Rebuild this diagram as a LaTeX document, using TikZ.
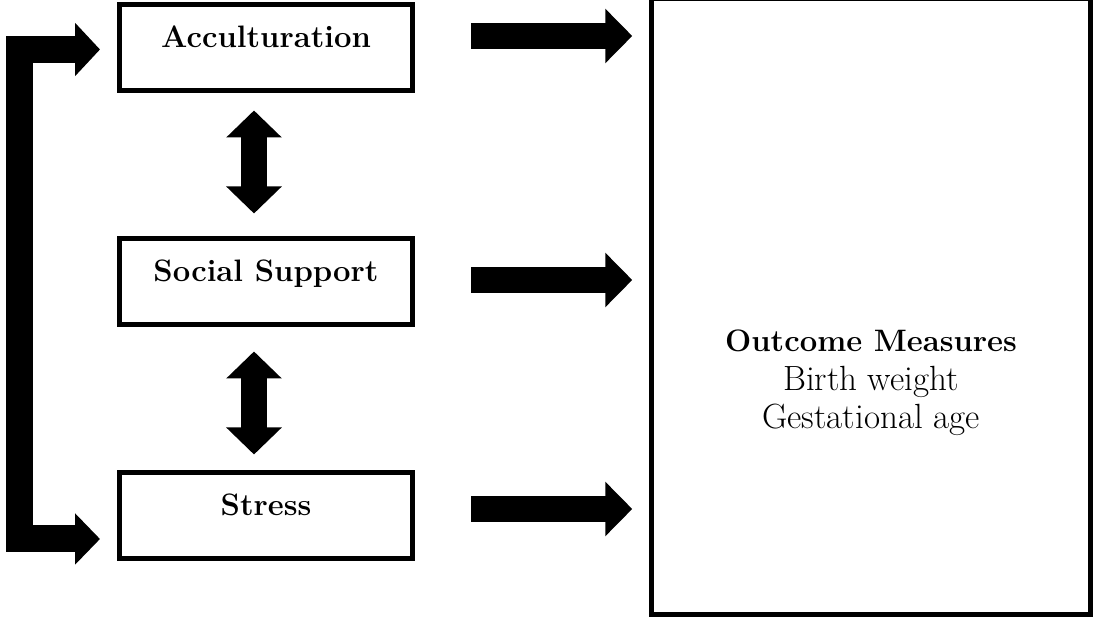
\documentclass[tikz,border=0pt]{standalone}
\usepackage{tikz}
\usetikzlibrary{arrows.meta,positioning}
\tikzset{
  boxnode/.style = {rectangle, draw=black, line width=5pt, align=center,
    minimum width=293pt, minimum height=86pt, text height=22pt, text depth=22pt,
    font=\fontsize{31}{38.5}\selectfont\bfseries},% boite de facteur
  fat_arr/.style = {line width=26pt,
    -{Triangle[length=27pt,width=53pt]}},% fleche pleine
  fat_dbl/.style = {line width=26pt,
    {Triangle[length=27pt,width=54pt]}-{Triangle[length=27pt,width=54pt]}},% fleche double
  out_box/.style = {rectangle, draw=black, line width=4.5pt,
    minimum width=439pt, minimum height=616pt}% boite des resultats
}
\begin{document}
\begin{tikzpicture}[x=1pt, y=1pt, node distance=143pt]
\useasboundingbox (0,0) rectangle (1093,617);
\node [boxnode] (accult) at (266,569) {Acculturation};
\node [boxnode, below=of accult] (support) {Social Support};
\node [boxnode, below=of support] (stress) {Stress};
\node [out_box] (outcome) at (871,310.5) {};
\node [align=center, font=\fontsize{35}{38.5}\selectfont] (outtext) at (871,234)
    {{\fontsize{31}{38.5}\selectfont\bfseries Outcome Measures}\\Birth weight\\Gestational age};
% fleches doubles
\draw [fat_dbl, shorten <=17pt, shorten >=23pt]
    ([xshift=-12pt]accult.south) -- ([xshift=-12pt]support.north);
\draw [fat_dbl, shorten <=24pt, shorten >=16pt]
    ([xshift=-12pt]support.south) -- ([xshift=-12pt]stress.north);
% fleches vers les resultats
\draw [fat_arr] ([xshift=56pt,yshift=12pt]accult.east)
    -- ([xshift=-17pt,yshift=12pt]outcome.west |- accult.east);
\draw [fat_arr] ([xshift=56pt,yshift=2pt]support.east)
    -- ([xshift=-17pt,yshift=2pt]outcome.west |- support.east);
\draw [fat_arr] ([xshift=56pt,yshift=7pt]stress.east)
    -- ([xshift=-17pt,yshift=7pt]outcome.west |- stress.east);
% fleche en coude
\draw [line width=27pt, {Triangle[length=25pt,width=52pt]}-{Triangle[length=25pt,width=50pt]}]
    ([xshift=-17pt,yshift=-1.5pt]accult.west) -- ++(-81,0)
    |- ([xshift=-17pt,yshift=-23pt]stress.west);
\end{tikzpicture}
\end{document}
